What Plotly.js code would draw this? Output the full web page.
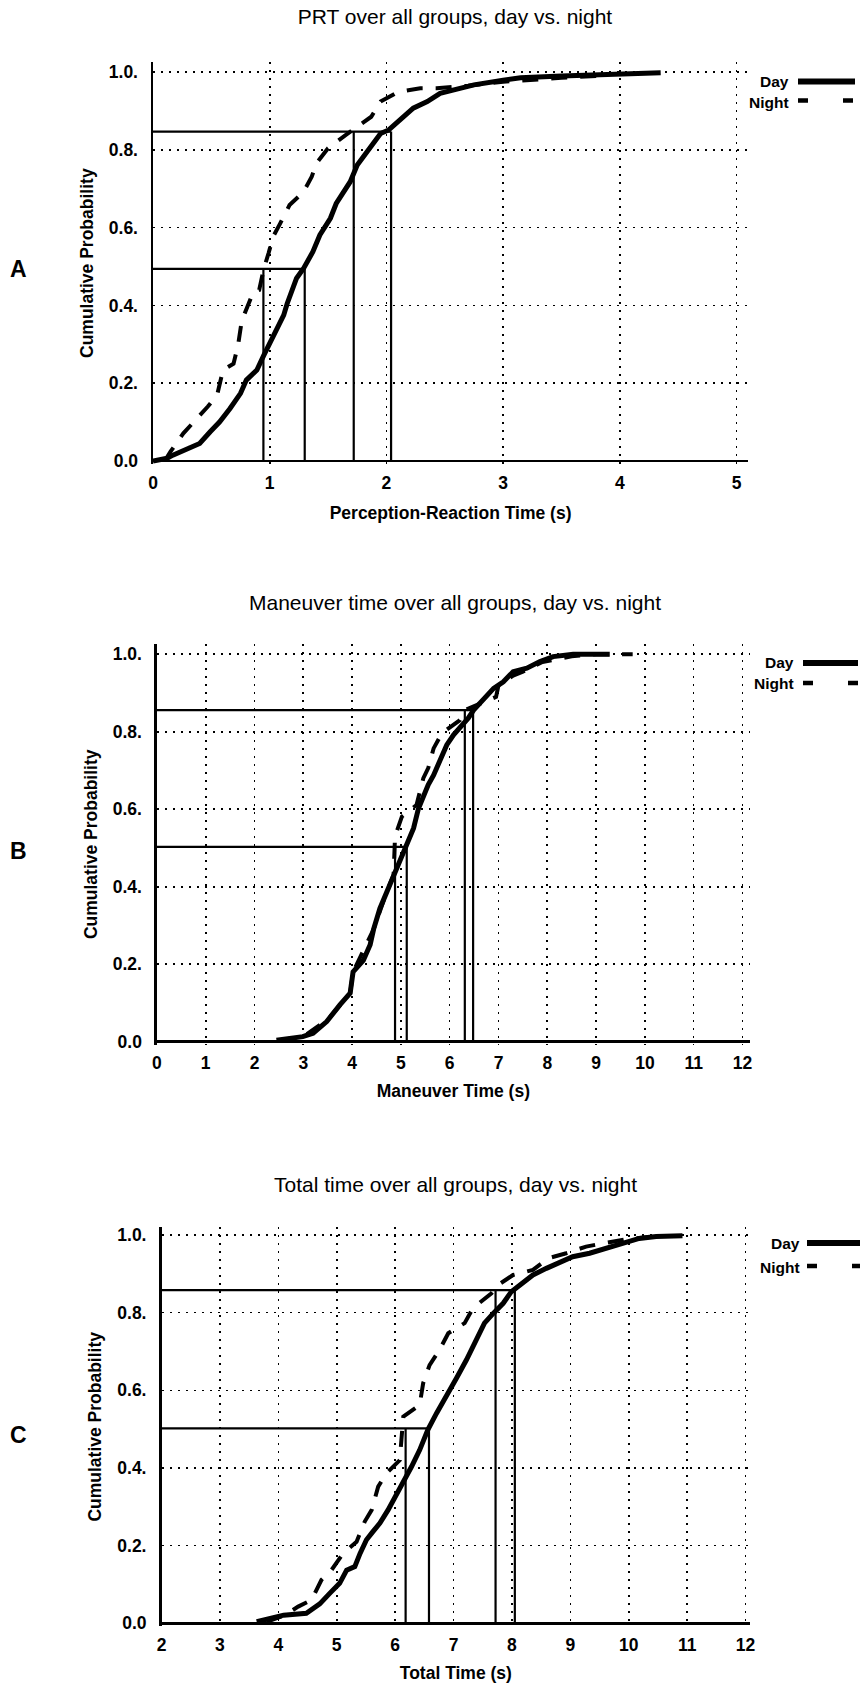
<!DOCTYPE html>
<html><head><meta charset="utf-8">
<script src="https://cdn.plot.ly/plotly-3.0.1.min.js"></script>
<style>html,body{margin:0;padding:0;background:#fff;} #chart{width:860px;height:1688px;}</style>
</head><body><div id="chart"></div>
<script>
// ---------------- data ----------------
const yTickVals = [0, 0.2, 0.4, 0.6, 0.8, 1.0];
const yTickText = ["0.0", "0.2.", "0.4.", "0.6.", "0.8.", "1.0."];
const prtTicks = [0, 1, 2, 3, 4, 5];
const manTicks = [0, 1, 2, 3, 4, 5, 6, 7, 8, 9, 10, 11, 12];
const totTicks = [2, 3, 4, 5, 6, 7, 8, 9, 10, 11, 12];

// A: Perception-Reaction Time
const prtDayX = [0, 0.12, 0.17, 0.29, 0.40, 0.49, 0.57, 0.66, 0.75, 0.80, 0.89, 0.95, 1.03, 1.12, 1.15, 1.20, 1.23, 1.29, 1.32, 1.37, 1.43, 1.52, 1.57, 1.63, 1.69, 1.75, 1.83, 1.89, 1.95, 2.02, 2.12, 2.23, 2.35, 2.46, 2.63, 2.75, 3.00, 3.15, 3.50, 4.00, 4.35];
const prtDayY = [0, 0.007, 0.015, 0.03, 0.045, 0.075, 0.10, 0.135, 0.174, 0.208, 0.234, 0.272, 0.324, 0.375, 0.405, 0.444, 0.47, 0.495, 0.512, 0.538, 0.581, 0.624, 0.662, 0.688, 0.718, 0.761, 0.795, 0.821, 0.842, 0.851, 0.877, 0.907, 0.924, 0.945, 0.958, 0.967, 0.979, 0.985, 0.99, 0.995, 0.998];
const prtNightX = [0.10, 0.15, 0.26, 0.35, 0.47, 0.55, 0.60, 0.69, 0.73, 0.76, 0.82, 0.86, 0.91, 0.95, 0.99, 1.03, 1.09, 1.17, 1.29, 1.36, 1.40, 1.50, 1.65, 1.77, 1.87, 1.95, 2.10, 2.29, 2.43, 2.70, 3.00, 3.50, 3.80];
const prtNightY = [0.00, 0.024, 0.071, 0.10, 0.14, 0.17, 0.234, 0.25, 0.30, 0.36, 0.405, 0.435, 0.44, 0.495, 0.534, 0.577, 0.611, 0.658, 0.692, 0.731, 0.765, 0.804, 0.838, 0.864, 0.885, 0.924, 0.949, 0.958, 0.958, 0.965, 0.975, 0.985, 0.99];
const prtLevels = [0.494, 0.847];
const prtNightAt = [0.946, 1.72];
const prtDayAt = [1.30, 2.04];

// B: Maneuver Time
const manDayX = [2.45, 2.99, 3.20, 3.48, 3.75, 3.96, 4.02, 4.23, 4.37, 4.44, 4.57, 4.71, 4.85, 4.98, 5.12, 5.26, 5.36, 5.46, 5.56, 5.67, 5.80, 5.94, 6.08, 6.21, 6.38, 6.49, 6.69, 6.90, 7.10, 7.30, 7.58, 7.85, 8.12, 8.53, 9.28];
const manDayY = [0.004, 0.013, 0.022, 0.052, 0.095, 0.125, 0.18, 0.21, 0.25, 0.29, 0.344, 0.387, 0.43, 0.465, 0.508, 0.551, 0.602, 0.637, 0.663, 0.688, 0.723, 0.766, 0.792, 0.809, 0.835, 0.856, 0.882, 0.912, 0.929, 0.955, 0.964, 0.981, 0.994, 1.0, 1.0];
const manNightX = [2.50, 3.00, 3.50, 3.96, 4.02, 4.44, 4.71, 4.85, 4.88, 5.02, 5.32, 5.46, 5.56, 5.67, 5.84, 6.00, 6.21, 6.30, 6.60, 6.75, 6.95, 7.00, 7.30, 7.50, 7.90, 8.50, 9.00, 9.75];
const manNightY = [0.004, 0.013, 0.057, 0.125, 0.18, 0.29, 0.387, 0.43, 0.53, 0.581, 0.611, 0.68, 0.706, 0.757, 0.796, 0.81, 0.83, 0.855, 0.87, 0.88, 0.89, 0.92, 0.945, 0.955, 0.98, 0.995, 1.0, 1.0];
const manLevels = [0.503, 0.856];
const manNightAt = [4.88, 6.31];
const manDayAt = [5.12, 6.48];

// C: Total Time
const totDayX = [3.63, 3.91, 4.09, 4.48, 4.71, 4.88, 5.05, 5.17, 5.31, 5.40, 5.51, 5.62, 5.74, 5.88, 6.02, 6.14, 6.28, 6.42, 6.56, 6.71, 6.88, 7.05, 7.22, 7.39, 7.53, 7.68, 7.85, 7.99, 8.19, 8.36, 8.59, 8.81, 9.04, 9.33, 9.61, 9.90, 10.18, 10.47, 10.92];
const totDayY = [0.004, 0.013, 0.021, 0.026, 0.05, 0.077, 0.103, 0.137, 0.146, 0.18, 0.215, 0.236, 0.258, 0.292, 0.33, 0.369, 0.403, 0.446, 0.498, 0.541, 0.584, 0.631, 0.678, 0.73, 0.773, 0.798, 0.824, 0.854, 0.876, 0.897, 0.914, 0.927, 0.944, 0.953, 0.966, 0.979, 0.991, 0.996, 0.998];
const totNightX = [3.80, 4.10, 4.34, 4.57, 4.74, 4.91, 5.11, 5.34, 5.48, 5.60, 5.71, 5.85, 6.08, 6.11, 6.14, 6.42, 6.48, 6.59, 6.76, 6.91, 7.19, 7.33, 7.65, 7.76, 8.02, 8.36, 8.62, 8.93, 9.27, 9.58, 10.00, 10.50];
const totNightY = [0.004, 0.02, 0.043, 0.06, 0.112, 0.137, 0.18, 0.21, 0.262, 0.292, 0.352, 0.386, 0.42, 0.49, 0.532, 0.562, 0.618, 0.665, 0.704, 0.747, 0.773, 0.811, 0.85, 0.871, 0.897, 0.91, 0.94, 0.953, 0.97, 0.979, 0.99, 0.997];
const totLevels = [0.502, 0.858];
const totNightAt = [6.18, 7.72];
const totDayAt = [6.58, 8.05];

// ---------------- layout helpers ----------------
const W = 860, H = 1688;
const FONT = '"Liberation Sans", Arial, sans-serif';
const px = v => v / W;
const py = v => 1 - v / H;

function refTrace(x0, levels, nightAt, dayAt, xa, ya) {
  const xs = [], ys = [];
  levels.forEach((lv, i) => {
    xs.push(x0, dayAt[i], null, nightAt[i], nightAt[i], null, dayAt[i], dayAt[i], null);
    ys.push(lv, lv, null, 0, lv, null, 0, lv, null);
  });
  return {x: xs, y: ys, xaxis: xa, yaxis: ya, mode: 'lines', type: 'scatter',
    line: {color: '#000', width: 2.2}, hoverinfo: 'skip', showlegend: false};
}
function nightTrace(x, y, xa, ya) {
  return {x, y, xaxis: xa, yaxis: ya, mode: 'lines', type: 'scatter', name: 'Night',
    line: {color: '#000', width: 4, dash: '16px,13px'}, showlegend: false};
}
function dayTrace(x, y, xa, ya) {
  return {x, y, xaxis: xa, yaxis: ya, mode: 'lines', type: 'scatter', name: 'Day',
    line: {color: '#000', width: 5}, showlegend: false};
}

const data = [
  refTrace(0, prtLevels, prtNightAt, prtDayAt, 'x', 'y'),
  nightTrace(prtNightX, prtNightY, 'x', 'y'),
  dayTrace(prtDayX, prtDayY, 'x', 'y'),
  refTrace(0, manLevels, manNightAt, manDayAt, 'x2', 'y2'),
  nightTrace(manNightX, manNightY, 'x2', 'y2'),
  dayTrace(manDayX, manDayY, 'x2', 'y2'),
  refTrace(2, totLevels, totNightAt, totDayAt, 'x3', 'y3'),
  nightTrace(totNightX, totNightY, 'x3', 'y3'),
  dayTrace(totDayX, totDayY, 'x3', 'y3'),
];

const grid = {showgrid: true, gridcolor: '#000', gridwidth: 1.6, griddash: '2px,6px'};
function xAxis(range, ticks, title, left, right, anchor, standoff) {
  return Object.assign({
    range, tickmode: 'array', tickvals: ticks, ticktext: ticks.map(String),
    domain: [px(left), px(right)], anchor, showline: false, zeroline: false, ticks: '',
    ticklabelstandoff: 6,
    tickfont: {family: FONT, size: 17.5, color: '#000', weight: 'bold'},
    title: {text: title, standoff: standoff, font: {family: FONT, size: 17.5, color: '#000', weight: 'bold'}},
    fixedrange: true
  }, grid);
}
function yAxis(range, top, bottom, anchor) {
  return Object.assign({
    range, tickmode: 'array', tickvals: yTickVals, ticktext: yTickText,
    domain: [py(bottom), py(top)], anchor, showline: true, linecolor: '#000', linewidth: 2.5,
    zeroline: true, zerolinecolor: '#000', zerolinewidth: 2.5, ticks: '',
    ticklabelstandoff: 9,
    tickfont: {family: FONT, size: 17.5, color: '#000', weight: 'bold'},
    title: {text: 'Cumulative Probability', standoff: 11, font: {family: FONT, size: 17.5, color: '#000', weight: 'bold'}},
    fixedrange: true
  }, grid);
}

const annFont = (s, b) => ({family: FONT, size: s, color: '#000', weight: b ? 'bold' : 'normal'});
function ann(text, x, y, size, bold, xanchor) {
  return {text, x: px(x), y: py(y), xref: 'paper', yref: 'paper', showarrow: false,
    xanchor: xanchor || 'center', yanchor: 'middle', font: annFont(size, bold)};
}
function legendShapes(xStart, xEnd, yDay, yNight) {
  return [
    {type: 'line', xref: 'paper', yref: 'paper', x0: px(xStart), x1: px(xEnd), y0: py(yDay), y1: py(yDay), line: {color: '#000', width: 6}},
    {type: 'line', xref: 'paper', yref: 'paper', x0: px(xStart), x1: px(xEnd), y0: py(yNight), y1: py(yNight), line: {color: '#000', width: 4.5, dash: '10px,35px'}}
  ];
}

const layout = {
  width: W, height: H, margin: {l: 0, r: 0, t: 0, b: 0},
  paper_bgcolor: '#fff', plot_bgcolor: 'rgba(0,0,0,0)', showlegend: false,
  title: {text: 'PRT over all groups, day vs. night', x: px(455), xanchor: 'center', y: py(17), yanchor: 'middle', yref: 'container',
    font: {family: FONT, size: 21, color: '#000'}},
  xaxis: xAxis([0, 5.1], prtTicks, 'Perception-Reaction Time (s)', 153, 748.2, 'y', 15),
  yaxis: yAxis([-0.008, 1.025], 62.3, 464.1, 'x'),
  xaxis2: xAxis([0, 12.15], manTicks, 'Maneuver Time (s)', 156.9, 749.8, 'y2', 12),
  yaxis2: yAxis([-0.008, 1.027], 643.8, 1044.8, 'x2'),
  xaxis3: xAxis([2, 12.08], totTicks, 'Total Time (s)', 161.5, 750.2, 'y3', 12),
  yaxis3: yAxis([-0.008, 1.02], 1227.2, 1626.4, 'x3'),
  annotations: [
    ann('Maneuver time over all groups, day vs. night', 455, 602, 21, false),
    ann('Total time over all groups, day vs. night', 455, 1184, 21, false),
    ann('A', 18, 269, 23, true), ann('B', 18, 851, 23, true), ann('C', 18, 1435, 23, true),
    ann('Day', 791, 82, 15.5, true, 'right'), ann('Night', 791, 102, 15.5, true, 'right'),
    ann('Day', 796, 663, 15.5, true, 'right'), ann('Night', 796, 683, 15.5, true, 'right'),
    ann('Day', 802, 1243, 15.5, true, 'right'), ann('Night', 802, 1267, 15.5, true, 'right'),
  ],
  shapes: [].concat(
    legendShapes(798, 855, 81.5, 100.5),
    legendShapes(803, 858, 663, 683),
    legendShapes(807, 860, 1243, 1266)
  )
};

Plotly.newPlot('chart', data, layout, {staticPlot: true, displayModeBar: false});
</script></body></html>
